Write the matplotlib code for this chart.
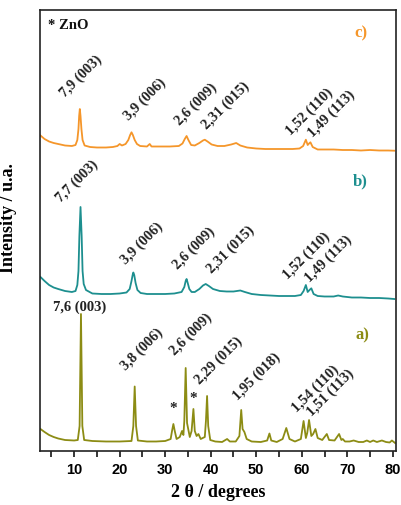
import matplotlib
matplotlib.use('Agg')
import matplotlib.pyplot as plt
from matplotlib.ticker import MultipleLocator

# traced XRD patterns (2theta in degrees, intensity in plot units incl. offset)
a_x = [2.6, 3.5, 4.5, 5.5, 6.5, 8, 10, 10.8, 11.2, 11.5, 11.8, 12.2, 14, 17, 20,
       22.6, 23.0, 23.3, 23.6, 24.0, 26, 28, 30, 31.2, 31.5, 31.8, 32.1, 32.5,
       33.2, 33.7, 34.0, 34.2, 34.5, 34.8, 35.4, 35.8, 36.2, 36.5, 36.9, 37.3,
       37.8, 38.7, 38.95, 39.2, 39.45, 39.9, 41, 42.5, 43.6, 44.2, 45.5, 46.3,
       46.7, 47.0, 47.4, 47.9, 49, 51, 52.4, 52.9, 53.3, 54.5, 55.8, 56.6, 57.3,
       58.5, 59.8, 60.4, 60.9, 61.2, 61.6, 62.1, 62.5, 63.0, 63.5, 64.5, 65.5,
       66.0, 67.2, 68.2, 68.7, 69.0, 69.5, 70.5, 71.4, 72.5, 73.5, 74.3, 75.0,
       75.7, 76.5, 77.6, 78.5, 79.3, 79.8, 80.5]
a_y = [22, 19, 16, 14, 12.5, 11, 10.5, 11, 25, 137, 25, 11, 10, 9.5, 9.5,
       10, 25, 64.5, 25, 10.5, 9.5, 9.5, 10, 12, 20, 27, 20, 12,
       14, 20, 16, 30, 83, 28, 14, 20, 42, 20, 15, 17,
       12, 14, 30, 55, 25, 11, 9.5, 9, 12, 9.5, 9.5, 15,
       41, 22, 19, 12, 9.5, 9, 10.5, 17.5, 10.5, 9, 12, 23, 12,
       9.5, 12, 30, 13, 18, 31, 15, 17, 22, 13, 11, 17,
       11, 10.5, 17, 11, 12, 9.5, 9.5, 10.5, 9, 9, 10.5, 9,
       10.5, 9, 10.5, 9, 8.5, 10.5, 8]

b_x = [2.6, 3.5, 4.5, 5.5, 6.5, 8, 9.5, 10.3, 10.7, 10.95, 11.15, 11.4, 11.65, 11.85,
       12.1, 12.6, 14, 16, 18, 20, 21.5, 22.2, 22.6, 22.85, 23.0, 23.2, 23.5, 23.9,
       24.6, 26, 28, 30, 32, 33.6, 34.2, 34.5, 34.7, 34.95, 35.3, 35.8, 36.5, 37.5,
       38.3, 38.9, 39.6, 40.5, 42, 43.5, 45, 46.5, 47.5, 49, 51, 53, 55, 57, 58.5,
       59.8, 60.4, 60.9, 61.3, 61.7, 62.1, 62.6, 63.5, 65, 67, 68.0, 69, 71, 73,
       75, 77, 79, 80.3]
b_y = [174, 170, 166, 163.5, 162, 160, 159, 160, 166, 180, 215, 244, 215, 180,
       167, 161, 157.5, 157, 157, 157.5, 158.5, 162, 170, 176, 178.5, 176, 168, 161,
       158, 157, 157, 157, 157.5, 159, 164, 170, 172, 168, 162, 159, 159, 162,
       165.5, 167, 165, 162, 160, 159.5, 159.5, 160.5, 159, 157, 156, 155.5, 155, 155, 155,
       156, 160, 166, 159, 161, 162.7, 157, 155, 154.5, 154.5, 155.5, 154.5, 153.5, 153.5,
       153, 153, 152.5, 152]

c_x = [2.6, 3.5, 4.5, 5.5, 6.5, 8, 9.5, 10.3, 10.7, 10.95, 11.1, 11.25, 11.4, 11.6,
       11.85, 12.3, 13.5, 15, 17, 18.5, 19.5, 20.0, 20.5, 21.3, 21.9, 22.3, 22.6,
       22.9, 23.3, 23.8, 24.5, 26, 26.6, 27, 29, 31, 33, 33.8, 34.3, 34.7, 35.1,
       35.7, 36.5, 37.5, 38.3, 38.7, 39.3, 40.2, 41.5, 43, 44.5, 45.6, 46.5, 48,
       50, 52, 54, 56, 58, 59.5, 60.3, 60.9, 61.3, 61.6, 61.9, 62.4, 63.5, 65, 67,
       69, 71, 73, 75, 77, 79, 80.3]
c_y = [315.5, 312, 309.5, 308, 307, 305.5, 305, 306, 311, 322, 335, 342, 335, 322,
       311, 305.5, 304, 303.5, 303.5, 304, 305, 307, 305.5, 307, 311, 316, 318.7,
       316, 311, 307, 305, 304.5, 307, 304.5, 304.5, 304.5, 305, 307.5, 312, 315, 311,
       306, 305.5, 308, 310.5, 311.3, 309.5, 306.5, 305, 305, 306.5, 308, 305.5, 303.5,
       302.5, 302, 302, 302, 302, 302.5, 305, 311.3, 306, 307.5, 308.7, 304, 301.5, 301.5, 301.5,
       301, 301, 300.5, 301, 300.5, 300.5, 300.3]

# peak annotations: (text, 2theta, height)
a_labels = [('3,8 (006)', 21.9, 78.7), ('2,6 (009)', 32.6, 93.7), ('2,29 (015)', 38.1, 65.3),
            ('1,95 (018)', 46.5, 48.7), ('1,54 (110)', 59.5, 37), ('1,51 (113)', 62.6, 32.7)]
b_labels = [('7,7 (003)', 7.6, 247), ('3,9 (006)', 21.9, 185.3), ('2,6 (009)', 33.2, 180.3),
            ('2,31 (015)', 40.8, 175.5), ('1,52 (110)', 57.5, 170.3), ('1,49 (113)', 62.2, 167)]
c_labels = [('7,9 (003)', 8.5, 352), ('3,9 (006)', 22.4, 329), ('2,6 (009)', 33.6, 324),
            ('2,31 (015)', 39.7, 319.5), ('1,52 (110)', 58.0, 314), ('1,49 (113)', 63.0, 312.5)]
zno_marks = [(31.8, 43), (36.2, 53)]

olive = '#8c8c14'
teal = '#1d8f8f'
orange = '#f5962a'
serif = 'Liberation Serif'

fig = plt.figure(figsize=(4.01, 5.06), dpi=100)
ax = fig.add_axes([40 / 401, 54 / 506, 356 / 401, 441 / 506])

ax.plot(a_x, a_y, color=olive, lw=1.3)
ax.plot(b_x, b_y, color=teal, lw=1.3)
ax.plot(c_x, c_y, color=orange, lw=1.3)

for labels in (a_labels, b_labels, c_labels):
    for txt, x, y in labels:
        ax.text(x, y, txt, rotation=45, rotation_mode='anchor', ha='left', va='bottom',
                family=serif, fontweight='bold', fontsize=10.5, color='#222222')

ax.text(11.3, 145, '7,6 (003)', ha='center', va='center', family=serif,
        fontweight='bold', fontsize=10.5, color='#222222')
for x, y in zno_marks:
    ax.text(x, y, '*', ha='center', va='center', family=serif, fontweight='bold',
            fontsize=11, color='#222222')

ax.text(4.3, 427, '* ZnO', ha='left', va='center', family=serif, fontweight='bold',
        fontsize=10.5, color='#111111')
ax.text(73.0, 419, 'c)', ha='center', va='center', family=serif, fontweight='bold',
        fontsize=12, color=orange)
ax.text(72.9, 271, 'b)', ha='center', va='center', family=serif, fontweight='bold',
        fontsize=12, color=teal)
ax.text(73.4, 117, 'a)', ha='center', va='center', family=serif, fontweight='bold',
        fontsize=12, color=olive)

ax.set_xlim(2.5, 80.7)
ax.set_ylim(0, 441)
ax.xaxis.set_major_locator(MultipleLocator(10))
ax.xaxis.set_minor_locator(MultipleLocator(5))
ax.tick_params(axis='x', which='both', direction='out', length=4, width=1.1, pad=4)
ax.set_yticks([])
for lab in ax.get_xticklabels():
    lab.set_fontfamily('Liberation Sans')
    lab.set_fontweight('bold')
    lab.set_fontsize(10.5)
for sp in ax.spines.values():
    sp.set_linewidth(1.2)
    sp.set_color('#222222')

ax.set_xlabel('2 θ / degrees', family=serif, fontweight='bold', fontsize=13, labelpad=5)
ax.set_ylabel('Intensity / u.a.', family=serif, fontweight='bold', fontsize=13)
ax.yaxis.set_label_coords(-0.065, 0.53)

fig.savefig('out.png', dpi=100)
